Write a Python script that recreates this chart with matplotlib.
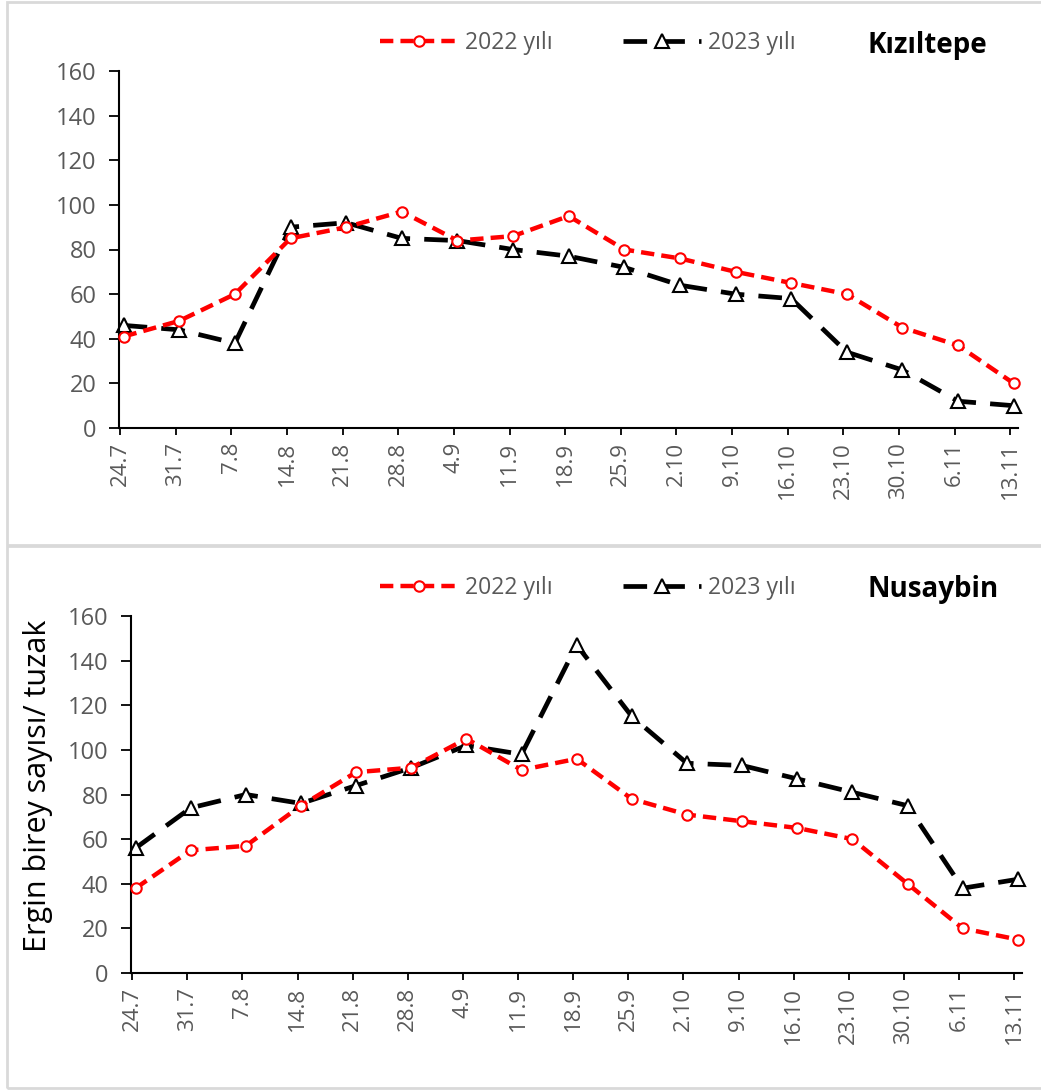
import matplotlib
matplotlib.use("Agg")
import matplotlib.pyplot as plt
from matplotlib.patches import Rectangle
from matplotlib.transforms import offset_copy

dates = ["24.7", "31.7", "7.8", "14.8", "21.8", "28.8", "4.9", "11.9", "18.9",
         "25.9", "2.10", "9.10", "16.10", "23.10", "30.10", "6.11", "13.11"]

kiz_2022 = [41, 48, 60, 85, 90, 97, 84, 86, 95, 80, 76, 70, 65, 60, 45, 37, 20]
kiz_2023 = [46, 44, 38, 90, 92, 85, 84, 80, 77, 72, 64, 60, 58, 34, 26, 12, 10]

nus_2022 = [38, 55, 57, 75, 90, 92, 105, 91, 96, 78, 71, 68, 65, 60, 40, 20, 15]
nus_2023 = [56, 74, 80, 76, 84, 92, 102, 98, 147, 115, 94, 93, 87, 81, 75, 38, 42]

series_labels = ["2022 yılı", "2023 yılı"]
panel_titles = ["Kızıltepe", "Nusaybin"]
ylabel_text = "Ergin birey sayısı/ tuzak"
yticks = [0, 20, 40, 60, 80, 100, 120, 140, 160]

plt.rcParams['font.family'] = ['Open Sans', 'DejaVu Sans']

W, H = 1041, 1090
fig = plt.figure(figsize=(W / 100, H / 100), dpi=100)

GRAY = "#595959"

# panel borders
for (y0, y1) in [(2, 545), (546, 1088)]:
    fig.patches.append(Rectangle((7 / W, 1 - y1 / H), (W + 5 - 7) / W, (y1 - y0) / H,
                                 transform=fig.transFigure, fill=False,
                                 edgecolor="#d9d9d9", linewidth=2.0, zorder=0))

panels = [
    dict(left=119, right=1018, bottom=428, top=71, d22=kiz_2022, d23=kiz_2023,
         title=panel_titles[0], leg_y=43, title_x=867),
    dict(left=131, right=1022, bottom=973, top=616, d22=nus_2022, d23=nus_2023,
         title=panel_titles[1], leg_y=588, title_x=868),
]

x = list(range(len(dates)))
for i, p in enumerate(panels):
    ax = fig.add_axes([p['left'] / W, 1 - p['bottom'] / H,
                       (p['right'] - p['left']) / W, (p['bottom'] - p['top']) / H])
    shift = offset_copy(ax.transData, fig=fig, x=3.5, y=0, units='dots')
    l22, = ax.plot(x, p['d22'], color="#ff0000", linewidth=3.2, dashes=(3, 1.6),
                   marker='o', markersize=7.5, markerfacecolor='white',
                   markeredgecolor="#ff0000", markeredgewidth=1.5, label=series_labels[0],
                   zorder=3, transform=shift, clip_on=False)
    l23, = ax.plot(x, p['d23'], color="black", linewidth=3.4, dashes=(5, 3),
                   marker='^', markersize=10, markerfacecolor='white',
                   markeredgecolor="black", markeredgewidth=1.5, label=series_labels[1],
                   zorder=2, transform=shift, clip_on=False)
    ax.set_xlim(-0.02, 16.14)
    ax.set_ylim(0, 160)
    ax.set_yticks(yticks)
    ax.set_xticks(x)
    ax.set_xticklabels(dates, rotation=90)
    for s in ['top', 'right']:
        ax.spines[s].set_visible(False)
    for s in ['left', 'bottom']:
        ax.spines[s].set_linewidth(1.5)
        ax.spines[s].set_color('black')
    ax.tick_params(axis='y', length=7, width=1.3, pad=9, labelsize=17, labelcolor=GRAY)
    ax.tick_params(axis='x', length=5, width=1.3, pad=5, labelsize=16, labelcolor=GRAY)
    ax.patch.set_alpha(0)

    leg = fig.legend(handles=[l22, l23], loc='center left',
                     bbox_to_anchor=(380 / W, 1 - p['leg_y'] / H), ncol=2,
                     frameon=False, fontsize=16.5, handlelength=3.4, handletextpad=0.3,
                     columnspacing=3.1, borderpad=0, borderaxespad=0)
    for t in leg.get_texts():
        t.set_color(GRAY)
    fig.text(p['title_x'] / W, 1 - (p['leg_y'] + 2) / H, p['title'], fontsize=20,
             fontweight='bold', color='black', ha='left', va='center')

fig.text(38 / W, 1 - 786 / H, ylabel_text, rotation=90, fontsize=22,
         color='black', ha='center', va='center')

fig.savefig("out.png", dpi=100, facecolor='white')
